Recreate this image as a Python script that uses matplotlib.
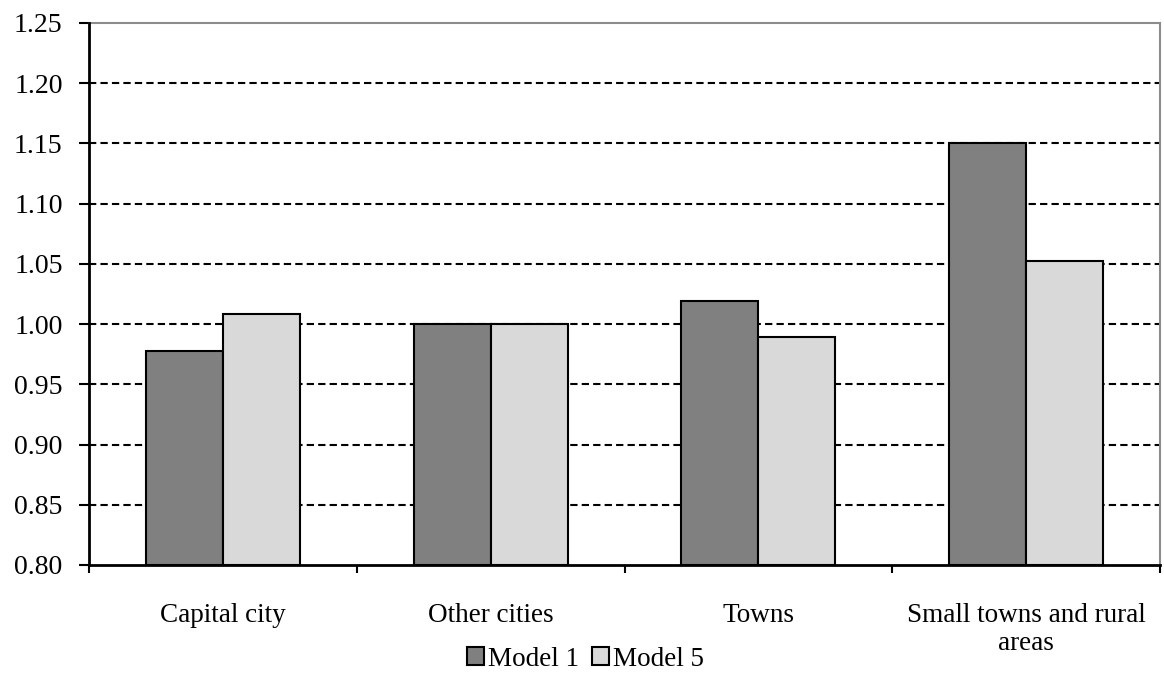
import matplotlib
matplotlib.use("Agg")
import matplotlib.pyplot as plt
import numpy as np
from matplotlib.patches import Patch

categories = ["Capital city", "Other cities", "Towns", "Small towns and rural\nareas"]
series_names = ["Model 1", "Model 5"]
model1 = [0.978, 1.00, 1.019, 1.15]
model5 = [1.008, 1.00, 0.989, 1.052]
yticks = [0.80, 0.85, 0.90, 0.95, 1.00, 1.05, 1.10, 1.15, 1.20, 1.25]

plt.rcParams['font.family'] = ['Liberation Serif', 'DejaVu Serif']

fig = plt.figure(figsize=(11.64, 6.73), dpi=100)
ax = fig.add_axes([89/1164, 1-565/673, (1160-89)/1164, (565-23)/673])

x = np.arange(len(categories))
w = 0.2876
colors = ["#808080", "#d9d9d9"]
ax.bar(x - w/2, np.array(model1) - 0.8, w, bottom=0.8, color=colors[0], edgecolor="black", linewidth=1.5, zorder=3)
ax.bar(x + w/2, np.array(model5) - 0.8, w, bottom=0.8, color=colors[1], edgecolor="black", linewidth=1.5, zorder=3)

ax.set_xlim(-0.5, len(categories) - 0.5)
ax.set_ylim(0.80, 1.25)
ax.set_yticks(yticks)
ax.set_yticklabels([f"{v:.2f}" for v in yticks], fontsize=20)
for v in yticks[1:-1]:
    ax.axhline(v, color="black", linestyle=(0, (3.5, 2)), linewidth=1.5, zorder=1)

ax.set_xticks(x)
ax.set_xticklabels(categories, fontsize=19.5, linespacing=1.2)
ax.tick_params(axis='x', which='major', length=0, pad=27)
ax.set_xticks(np.arange(-0.5, len(categories)), minor=True)
ax.tick_params(axis='x', which='minor', length=6, width=1.5, direction='out')
ax.tick_params(axis='y', length=7, width=1.5, direction='out', pad=12)

for s in ["left", "bottom"]:
    ax.spines[s].set_linewidth(2)
    ax.spines[s].set_color("black")
    ax.spines[s].set_zorder(4)
for s in ["top", "right"]:
    ax.spines[s].set_linewidth(1.5)
    ax.spines[s].set_color("#8c8c8c")

handles = [Patch(facecolor=c, edgecolor="black", linewidth=1.5) for c in colors]
fig.legend(handles, series_names, loc="center", bbox_to_anchor=(0.503, 1-659/673),
           ncol=2, frameon=False, fontsize=19.5, handlelength=0.6, handleheight=0.6,
           handletextpad=0.15, columnspacing=0.5)

fig.savefig("out.png", dpi=100)
